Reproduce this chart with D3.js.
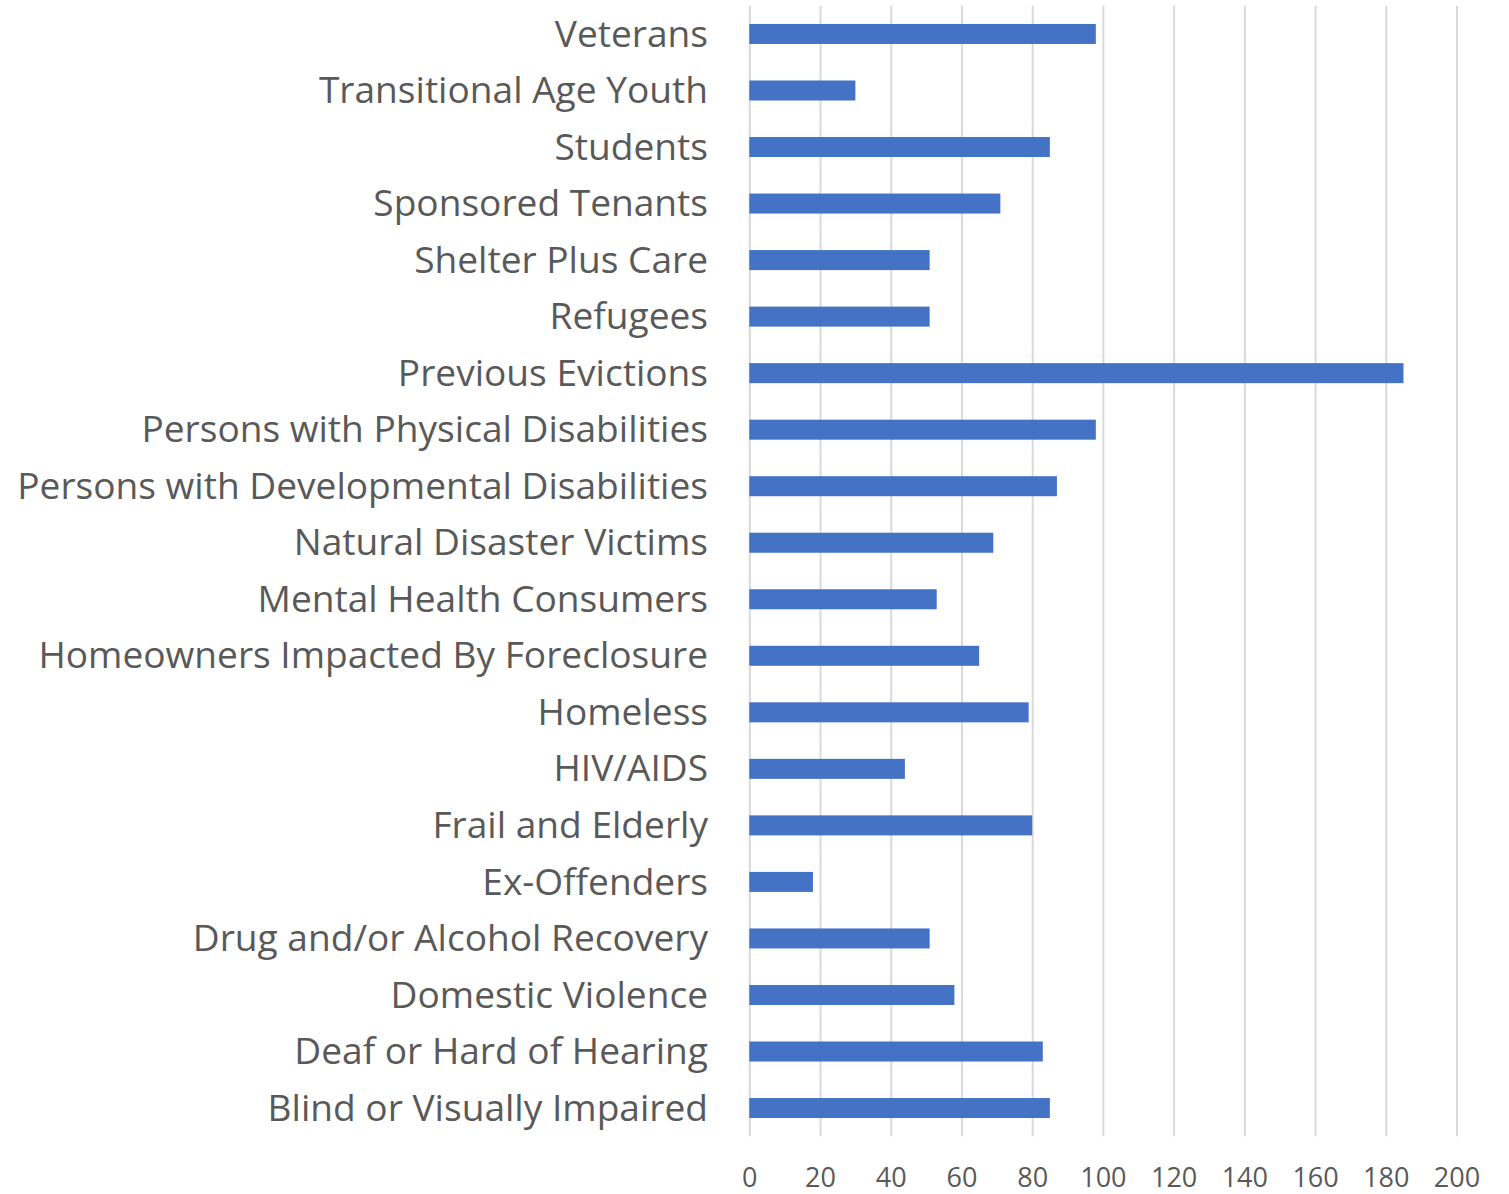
<!DOCTYPE html>
<html>
<head>
<meta charset="utf-8">
<script src="https://cdn.jsdelivr.net/npm/d3@7"></script>
<style>
  html, body { margin: 0; padding: 0; background: #ffffff; }
  svg { display: block; }
</style>
</head>
<body>
<svg id="chart" width="1509" height="1194"></svg>
<script>
// ---- Data (top to bottom as displayed) ----
const categories = [
  "Veterans",
  "Transitional Age Youth",
  "Students",
  "Sponsored Tenants",
  "Shelter Plus Care",
  "Refugees",
  "Previous Evictions",
  "Persons with Physical Disabilities",
  "Persons with Developmental Disabilities",
  "Natural Disaster Victims",
  "Mental Health Consumers",
  "Homeowners Impacted By Foreclosure",
  "Homeless",
  "HIV/AIDS",
  "Frail and Elderly",
  "Ex-Offenders",
  "Drug and/or Alcohol Recovery",
  "Domestic Violence",
  "Deaf or Hard of Hearing",
  "Blind or Visually Impaired"
];
const values = [98, 30, 85, 71, 51, 51, 185, 98, 87, 69, 53, 65, 79, 44, 80, 18, 51, 58, 83, 85];
const tickValues = [0, 20, 40, 60, 80, 100, 120, 140, 160, 180, 200];

// ---- Layout ----
const svg = d3.select("#chart");
const plotLeft = 749.3, plotRight = 1456.5, plotTop = 5.7, plotBottom = 1136.3;
const fontFamily = "'Open Sans', 'Liberation Sans', sans-serif";
const textColor = "#595959";

const x = d3.scaleLinear().domain([0, 200]).range([plotLeft, plotRight]);
const y = d3.scaleBand().domain(categories).range([plotTop, plotBottom]).paddingInner(0.646).paddingOuter(0.323);

// Fit label font size so the longest label spans like the reference
const probe = svg.append("text").attr("font-family", fontFamily).attr("font-size", 100)
  .text("Persons with Developmental Disabilities");
const probeW = probe.node().getComputedTextLength();
probe.remove();
const labelSize = 100 * 691 / probeW;

// Gridlines via axis
const gridAxis = d3.axisBottom(x).tickValues(tickValues).tickSize(-(plotBottom - plotTop)).tickFormat("");
const grid = svg.append("g").attr("transform", `translate(0,${plotBottom})`).call(gridAxis);
grid.select(".domain").remove();
grid.selectAll(".tick line").attr("stroke", "#d9d9d9").attr("stroke-width", 2);

// Bars
svg.append("g").selectAll("rect")
  .data(values)
  .join("rect")
  .attr("x", x(0))
  .attr("y", (d, i) => y(categories[i]))
  .attr("width", d => x(d) - x(0))
  .attr("height", y.bandwidth())
  .attr("fill", "#4472C4");

// Category labels via axis
const yAxis = d3.axisLeft(y).tickSize(0).tickPadding(0);
const yG = svg.append("g").attr("transform", `translate(708,0)`).call(yAxis);
yG.select(".domain").remove();
yG.selectAll(".tick text")
  .attr("font-family", fontFamily)
  .attr("font-size", labelSize)
  .attr("fill", textColor)
  .attr("dy", "0.34em");

// X tick labels
const xAxis = d3.axisBottom(x).tickValues(tickValues).tickSize(0).tickPadding(0);
const xG = svg.append("g").attr("transform", `translate(0,1187)`).call(xAxis);
xG.select(".domain").remove();
xG.selectAll(".tick text")
  .attr("font-family", fontFamily)
  .attr("font-size", 27)
  .attr("fill", textColor)
  .attr("dy", 0)
  .attr("y", 0);
</script>
</body>
</html>
